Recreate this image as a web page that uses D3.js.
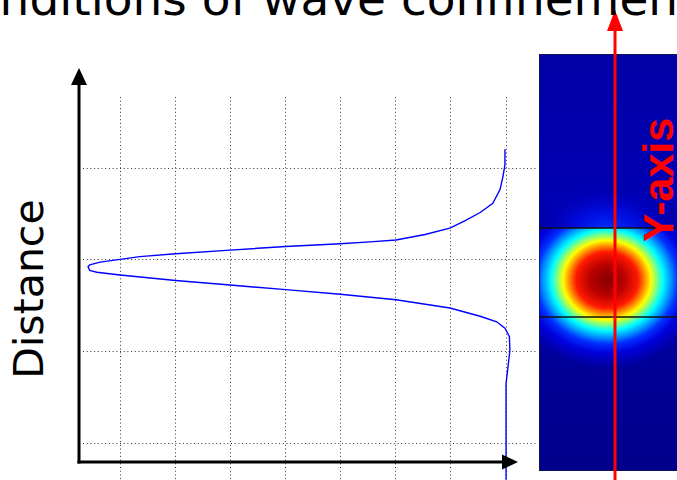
<!DOCTYPE html>
<html>
<head>
<meta charset="utf-8">
<script src="https://cdn.jsdelivr.net/npm/d3@7"></script>
<style>
  body { margin: 0; background: #fff; overflow: hidden; }
  svg { display: block; }
</style>
</head>
<body>
<div id="chart"></div>
<script>
// mode profile: field amplitude vs distance
var field = [0.01, 0.01, 0.05, 0.10, 0.23, 0.46, 0.74, 1.01, 1.46, 1.99, 2.46, 3.00, 3.99, 5.00, 5.99, 6.64, 7.00, 7.36, 7.55, 7.58,
             7.55, 7.42, 7.00, 5.99, 5.00, 3.99, 3.00, 1.99, 1.01, 0.46, 0.16, 0.01, -0.07, -0.08, -0.04, -0.01, -0.01];
var distance = [3.20, 3.03, 2.89, 2.76, 2.61, 2.51, 2.42, 2.34, 2.27, 2.21, 2.19, 2.17, 2.14, 2.10, 2.06, 2.03, 2.00, 1.97, 1.94, 1.92,
                1.88, 1.86, 1.83, 1.77, 1.72, 1.67, 1.62, 1.56, 1.47, 1.38, 1.32, 1.25, 1.16, 1.01, 0.80, 0.65, -0.40];
var xTicks = [0, 1, 2, 3, 4, 5, 6, 7];
var yTicks = [0, 1, 2, 3];

var width = 677
var height = 480

var svg = d3.select("#chart")
  .append("svg")
    .attr("width", width)
    .attr("height", height)

// scales (amplitude grows to the left)
var x = d3.scaleLinear().domain([0, 7]).range([505.5, 120])
var y = d3.scaleLinear().domain([0, 3]).range([443, 167.5])

var axisX = 79, axisY = 462

// ---------- heat map picture on the right ----------
var hm = { x: 539, y: 54, w: 150, h: 417, cx: 607, cy: 280, top: 228, bottom: 317 }
var defs = svg.append("defs")

var bg = defs.append("linearGradient")
    .attr("id", "bg").attr("x1", 0).attr("x2", 0).attr("y1", 0).attr("y2", 1)
bg.selectAll("stop")
  .data([[0, "#0000a6"], [0.35, "#0000b4"], [0.75, "#000098"], [1, "#00008c"]])
  .enter().append("stop")
    .attr("offset", function(d) { return d[0] })
    .attr("stop-color", function(d) { return d[1] })

var hot = defs.append("radialGradient")
    .attr("id", "hot")
    .attr("gradientUnits", "userSpaceOnUse")
    .attr("cx", hm.cx).attr("cy", hm.cy).attr("r", 100)
    .attr("gradientTransform", "translate(" + hm.cx + "," + hm.cy + ") scale(1,0.9) translate(" + (-hm.cx) + "," + (-hm.cy) + ")")
var jetStops = [
  [0, "#860000"], [0.17, "#b80000"], [0.31, "#ff1800"], [0.38, "#ff9000"], [0.44, "#ffff00"],
  [0.5, "#80ff80"], [0.56, "#00ffff"], [0.63, "#00a0ff"], [0.71, "#0030ff"], [0.81, "#0000dc"], [0.92, "#0000b0"], [1, "#0000a0"]]
hot.selectAll("stop").data(jetStops).enter().append("stop")
    .attr("offset", function(d) { return d[0] })
    .attr("stop-color", function(d) { return d[1] })
    .attr("stop-opacity", function(d) { return d[0] === 1 ? 0 : 1 })

var glow = defs.append("radialGradient")
    .attr("id", "glow")
    .attr("gradientUnits", "objectBoundingBox")
glow.append("stop").attr("offset", 0).attr("stop-color", "#0038ff").attr("stop-opacity", 1)
glow.append("stop").attr("offset", 0.5).attr("stop-color", "#0010f0").attr("stop-opacity", 0.7)
glow.append("stop").attr("offset", 1).attr("stop-color", "#0000c0").attr("stop-opacity", 0)

defs.append("clipPath").attr("id", "hmclip")
  .append("rect").attr("x", hm.x).attr("y", hm.y).attr("width", hm.w).attr("height", hm.h)
defs.append("clipPath").attr("id", "coreclip")
  .append("rect").attr("x", hm.x).attr("y", hm.top).attr("width", hm.w).attr("height", hm.y + hm.h - hm.top)

var pic = svg.append("g").attr("clip-path", "url(#hmclip)")
pic.append("rect")
    .attr("x", hm.x).attr("y", hm.y).attr("width", hm.w).attr("height", hm.h)
    .attr("fill", "url(#bg)")
// blue glow above the core
pic.append("ellipse")
    .attr("cx", hm.cx).attr("cy", hm.top + 4).attr("rx", 66).attr("ry", 44)
    .attr("fill", "url(#glow)")
// field inside and below the core
pic.append("g").attr("clip-path", "url(#coreclip)")
  .append("ellipse")
    .attr("cx", hm.cx).attr("cy", hm.cy).attr("rx", 100).attr("ry", 90)
    .attr("fill", "url(#hot)")
pic.append("rect")
    .attr("x", hm.x).attr("y", hm.y).attr("width", hm.w).attr("height", hm.h)
    .attr("fill", "none").attr("stroke", "#1a1a40").attr("stroke-width", 1.5)
pic.selectAll("line.core")
  .data([hm.top, hm.bottom])
  .enter().append("line")
    .attr("x1", hm.x).attr("x2", hm.x + hm.w)
    .attr("y1", function(d) { return d }).attr("y2", function(d) { return d })
    .attr("stroke", "#111").attr("stroke-width", 1.3)

// red Y-axis arrow
svg.append("line")
    .attr("x1", 615).attr("x2", 615).attr("y1", 28).attr("y2", 480)
    .attr("stroke", "#ff0000").attr("stroke-width", 3)
svg.append("path")
    .attr("d", "M615,10 L623,31 L607,31 Z")
    .attr("fill", "#ff0000")
svg.append("text")
    .attr("transform", "translate(673,180) rotate(-90)")
    .attr("text-anchor", "middle")
    .style("font-family", "Liberation Sans, Arial, sans-serif")
    .style("font-weight", "bold")
    .style("font-size", "43px")
    .attr("fill", "#ff0000")
    .text("Y-axis")

// ---------- left plot ----------
var grid = svg.append("g")
    .attr("stroke", "#333")
    .attr("stroke-width", 1)
    .attr("stroke-dasharray", "1,2.7")

grid.selectAll("line.v")
  .data(xTicks)
  .enter().append("line")
    .attr("x1", function(d) { return Math.round(x(d)) + 0.5 })
    .attr("x2", function(d) { return Math.round(x(d)) + 0.5 })
    .attr("y1", 97).attr("y2", 480)

grid.selectAll("line.h")
  .data(yTicks)
  .enter().append("line")
    .attr("y1", function(d) { return Math.round(y(d)) + 0.5 })
    .attr("y2", function(d) { return Math.round(y(d)) + 0.5 })
    .attr("x1", 83).attr("x2", 536)

var line = d3.line()
    .x(function(d, i) { return x(field[i]) })
    .y(function(d, i) { return y(distance[i]) })

svg.append("path")
    .datum(field)
    .attr("d", line)
    .attr("fill", "none")
    .attr("stroke", "#0000ff")
    .attr("stroke-width", 1.4)

// axes with arrow heads
svg.append("line")
    .attr("x1", axisX).attr("x2", axisX).attr("y1", 82).attr("y2", axisY + 1.5)
    .attr("stroke", "#000").attr("stroke-width", 3)
svg.append("path")
    .attr("d", "M" + axisX + ",68 L" + (axisX + 8) + ",85 L" + (axisX - 8) + ",85 Z")
    .attr("fill", "#000")
svg.append("line")
    .attr("x1", axisX - 1.5).attr("x2", 504).attr("y1", axisY).attr("y2", axisY)
    .attr("stroke", "#000").attr("stroke-width", 3)
svg.append("path")
    .attr("d", "M518," + axisY + " L502," + (axisY - 7.5) + " L502," + (axisY + 7.5) + " Z")
    .attr("fill", "#000")

svg.append("text")
    .attr("transform", "translate(43,289) rotate(-90)")
    .attr("text-anchor", "middle")
    .style("font-family", "DejaVu Sans, Verdana, sans-serif")
    .style("font-size", "41px")
    .attr("fill", "#000")
    .text("Distance")

// title, cut off at the top of the frame
var titleText = "Conditions of wave confinement"
var title = svg.append("text")
    .attr("y", 15)
    .style("font-family", "DejaVu Sans, Verdana, sans-serif")
    .style("font-size", "47px")
    .attr("fill", "#000")
    .text(titleText)
var offs = title.node().getSubStringLength(0, titleText.indexOf("wave"))
title.attr("x", 262 - offs)
</script>
</body>
</html>
